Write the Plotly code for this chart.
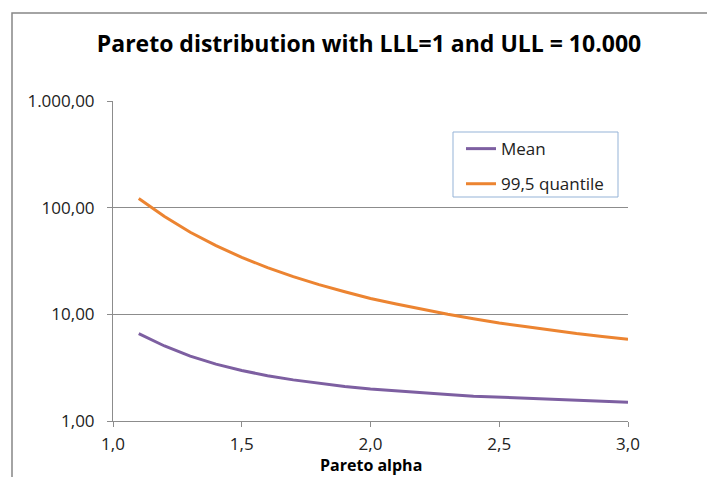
import plotly.graph_objects as go

alpha = [1.1, 1.2, 1.3, 1.4, 1.5, 1.6, 1.7, 1.8, 1.9, 2.0,
         2.1, 2.2, 2.3, 2.4, 2.5, 2.6, 2.7, 2.8, 2.9, 3.0]
mean_vals = [6.6, 5.05, 4.06, 3.41, 2.97, 2.66, 2.43, 2.25, 2.11, 2.0,
             1.91, 1.83, 1.77, 1.71, 1.67, 1.63, 1.59, 1.56, 1.53, 1.5]
q995_vals = [122.0, 82.5, 58.8, 44.0, 34.2, 27.4, 22.6, 19.0, 16.3, 14.1,
             12.5, 11.1, 10.0, 9.1, 8.3, 7.7, 7.1, 6.6, 6.2, 5.85]
y_ticks = [1, 10, 100, 1000]
x_ticks = [1.0, 1.5, 2.0, 2.5, 3.0]

FONT = "Open Sans"
PURPLE = "#7D5FA1"
ORANGE = "#EC8431"
GRID = "#8C8C8C"

# page body has an 8px margin: figure origin sits at (8, 8) on the page
W, H = 707, 469

fig = go.Figure()
fig.add_trace(go.Scatter(x=alpha, y=mean_vals, mode="lines", name="Mean",
                         legendgroup="a",
                         line=dict(color=PURPLE, width=3)))
fig.add_trace(go.Scatter(x=alpha, y=q995_vals, mode="lines", name="99,5 quantile",
                         legendgroup="b",
                         line=dict(color=ORANGE, width=3)))

fig.update_layout(
    width=W, height=H,
    margin=dict(l=105, r=87, t=93, b=56),
    paper_bgcolor="white", plot_bgcolor="white",
    separators=",.",
    font=dict(family=FONT, size=17, color="#222222"),
    title=dict(text="<b>Pareto distribution with LLL=1 and ULL = 10.000</b>",
               x=(369 - 8) / W, xanchor="center", xref="container",
               y=1 - (44 - 8) / H, yanchor="middle", yref="container",
               font=dict(family=FONT, size=23, color="black")),
    showlegend=True,
    legend=dict(x=(461 - 113) / 515, y=0.906, xanchor="left", yanchor="top",
                bgcolor="rgba(0,0,0,0)", borderwidth=0,
                tracegroupgap=10, traceorder="grouped",
                font=dict(family=FONT, size=17, color="#222222")),
    xaxis=dict(range=[1.0, 3.0], tickvals=x_ticks, tickformat=".1f",
               showgrid=False, zeroline=False,
               showline=True, linecolor=GRID, linewidth=1,
               ticks="outside", ticklen=5, tickcolor=GRID,
               ticklabelstandoff=3,
               tickfont=dict(family=FONT, size=17, color="#222222")),
    yaxis=dict(type="log", range=[0, 3], tickvals=y_ticks, tickformat=",.2f",
               showgrid=True, gridcolor=GRID, gridwidth=1,
               zeroline=False,
               showline=True, linecolor=GRID, linewidth=1,
               ticks="outside", ticklen=5, tickcolor=GRID,
               ticklabelstandoff=9,
               tickfont=dict(family=FONT, size=17, color="#222222")),
)

fig.add_annotation(text="<b>Pareto alpha</b>", xref="paper", yref="paper",
                   x=0.5, y=(421 - 465) / 320, xanchor="center", yanchor="middle",
                   showarrow=False, font=dict(family=FONT, size=16, color="black"))

# legend frame
fig.add_shape(type="rect", xref="paper", yref="paper",
              x0=(453 - 113) / 515, x1=(618 - 113) / 515,
              y0=1 - (197 - 101) / 320, y1=1 - (132 - 101) / 320,
              line=dict(color="#95B3D7", width=1))
# outer chart frame
fig.add_shape(type="rect", xref="paper", yref="paper",
              x0=(12 - 113) / 515, x1=(740 - 113) / 515,
              y0=(421 - 500) / 320, y1=1 + (101 - 13) / 320,
              line=dict(color="#878787", width=1.5))

fig.write_html("out.html")
